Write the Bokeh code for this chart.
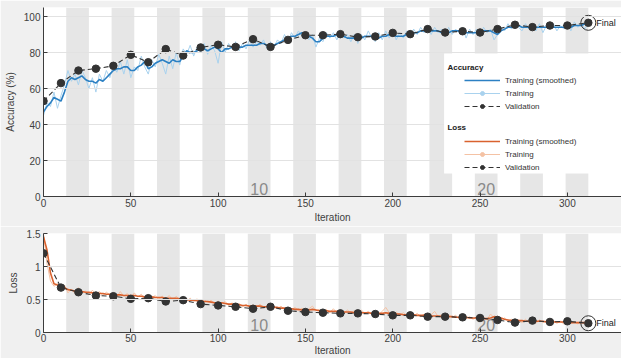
import numpy as np
from bokeh.plotting import figure
from bokeh.layouts import column
from bokeh.models import (FixedTicker, NumeralTickFormatter, Legend, LegendItem,
                          Label, BoxAnnotation, Range1d)
from bokeh.core.properties import value
from bokeh.embed import file_html
from bokeh.resources import INLINE

# ---------------- data ----------------
ITERS_PER_EPOCH = 13
N_EPOCHS = 24
EPOCH_LABELS = [10, 20]
STEP = 2  # training values are read every 2 iterations

acc_smooth = [
    47, 50, 52, 55, 54, 53, 58, 64, 66, 65,
    66, 67, 65, 64, 64, 63, 65, 64, 66, 68,
    70, 71, 71, 72, 72, 70, 70, 72, 73, 75,
    71, 72, 74, 75, 76, 75, 74, 76, 75, 75,
    78, 81, 80, 80, 81, 82, 82, 81, 82, 83,
    82, 80, 82, 82, 83, 82, 83, 83, 84, 84,
    84, 84, 85, 85, 84, 84, 84, 85, 86, 87,
    88, 89, 89, 90, 91, 90, 89, 88, 86, 86,
    88, 89, 89, 89, 90, 89, 89, 88, 88, 88,
    87, 88, 89, 89, 89, 88, 88, 89, 89, 90,
    90, 89, 89, 89, 90, 90, 91, 91, 92, 92,
    93, 92, 92, 92, 91, 91, 91, 92, 92, 92,
    92, 91, 91, 91, 91, 92, 92, 92, 92, 91,
    90, 92, 93, 94, 94, 95, 95, 94, 94, 94,
    94, 94, 94, 94, 94, 94, 94, 94, 94, 94,
    94, 94, 95, 95, 95, 96, 95]

acc_train = [
    45, 52, 50, 58, 49, 56, 62, 70, 64, 68,
    62, 70, 66, 60, 66, 58, 68, 64, 70, 66,
    73, 69, 75, 68, 76, 66, 72, 70, 78, 72,
    68, 76, 72, 79, 74, 68, 78, 71, 80, 73,
    82, 79, 84, 78, 83, 80, 85, 79, 84, 81,
    74, 86, 80, 85, 82, 86, 81, 85, 82, 87,
    83, 86, 84, 87, 82, 86, 83, 87, 85, 90,
    86, 91, 88, 92, 89, 91, 87, 90, 83, 88,
    86, 91, 88, 91, 87, 92, 88, 90, 86, 90,
    85, 90, 87, 92, 88, 86, 91, 87, 92, 88,
    93, 87, 91, 88, 92, 89, 93, 90, 94, 91,
    95, 90, 94, 91, 93, 89, 94, 90, 93, 91,
    94, 88, 93, 90, 93, 89, 94, 91, 93, 87,
    90, 94, 92, 96, 93, 96, 94, 92, 96, 93,
    95, 92, 96, 91, 95, 93, 96, 92, 95, 93,
    96, 92, 97, 94, 96, 93, 97]

loss_smooth = [
    1.45, 1.25, 0.90, 0.74, 0.72, 0.71, 0.68, 0.65, 0.64, 0.63,
    0.62, 0.62, 0.61, 0.61, 0.60, 0.60, 0.59, 0.59, 0.58, 0.58,
    0.57, 0.57, 0.57, 0.56, 0.56, 0.56, 0.56, 0.55, 0.55, 0.54,
    0.54, 0.54, 0.53, 0.53, 0.53, 0.52, 0.52, 0.52, 0.52, 0.51,
    0.51, 0.50, 0.49, 0.49, 0.48, 0.48, 0.47, 0.47, 0.46, 0.45,
    0.45, 0.45, 0.44, 0.43, 0.43, 0.42, 0.42, 0.41, 0.41, 0.40,
    0.40, 0.40, 0.40, 0.39, 0.39, 0.39, 0.38, 0.38, 0.37, 0.37,
    0.36, 0.36, 0.35, 0.35, 0.34, 0.34, 0.34, 0.35, 0.34, 0.33,
    0.33, 0.33, 0.32, 0.32, 0.32, 0.31, 0.31, 0.31, 0.31, 0.30,
    0.30, 0.30, 0.30, 0.30, 0.29, 0.29, 0.29, 0.29, 0.30, 0.29,
    0.28, 0.28, 0.28, 0.27, 0.27, 0.27, 0.27, 0.26, 0.26, 0.26,
    0.25, 0.25, 0.25, 0.25, 0.24, 0.24, 0.24, 0.24, 0.23, 0.23,
    0.23, 0.23, 0.22, 0.22, 0.22, 0.22, 0.21, 0.21, 0.22, 0.24,
    0.23, 0.22, 0.20, 0.19, 0.18, 0.18, 0.18, 0.18, 0.17, 0.17,
    0.17, 0.17, 0.17, 0.17, 0.16, 0.16, 0.16, 0.16, 0.16, 0.16,
    0.16, 0.15, 0.15, 0.15, 0.15, 0.15, 0.15]

loss_train = [
    1.50, 1.05, 0.78, 0.70, 0.74, 0.66, 0.72, 0.60, 0.66, 0.59,
    0.68, 0.60, 0.63, 0.57, 0.64, 0.58, 0.62, 0.56, 0.61, 0.57,
    0.60, 0.54, 0.62, 0.55, 0.59, 0.53, 0.60, 0.54, 0.58, 0.51,
    0.57, 0.52, 0.56, 0.50, 0.55, 0.51, 0.56, 0.49, 0.55, 0.50,
    0.53, 0.47, 0.52, 0.47, 0.51, 0.45, 0.50, 0.45, 0.49, 0.43,
    0.48, 0.43, 0.47, 0.41, 0.45, 0.40, 0.44, 0.39, 0.43, 0.38,
    0.42, 0.38, 0.43, 0.37, 0.41, 0.37, 0.40, 0.36, 0.40, 0.35,
    0.38, 0.34, 0.38, 0.33, 0.37, 0.32, 0.36, 0.40, 0.33, 0.35,
    0.31, 0.35, 0.30, 0.36, 0.30, 0.34, 0.29, 0.34, 0.30, 0.33,
    0.28, 0.34, 0.29, 0.32, 0.28, 0.31, 0.27, 0.32, 0.38, 0.30,
    0.27, 0.31, 0.26, 0.30, 0.26, 0.29, 0.25, 0.29, 0.24, 0.28,
    0.24, 0.27, 0.32, 0.24, 0.27, 0.22, 0.27, 0.23, 0.26, 0.21,
    0.25, 0.21, 0.24, 0.20, 0.24, 0.20, 0.23, 0.19, 0.28, 0.22,
    0.25, 0.19, 0.22, 0.17, 0.20, 0.16, 0.19, 0.15, 0.20, 0.15,
    0.18, 0.14, 0.19, 0.15, 0.18, 0.14, 0.18, 0.14, 0.17, 0.13,
    0.18, 0.14, 0.16, 0.13, 0.16, 0.13, 0.15]

val_iter = [0, 10, 20, 30, 40, 50, 60, 70, 80, 90, 100, 110, 120, 130, 140, 150,
            160, 170, 180, 190, 200, 210, 220, 230, 240, 250, 260, 270, 280, 290, 300, 312]
val_acc = [53, 63, 70, 71, 72.6, 78.7, 74.6, 81.9, 78.3, 82.8, 84.3, 83.1, 87.4, 83.1, 87, 89.6,
           89.6, 90.2, 88.5, 88.9, 90.9, 90.2, 93, 91.1, 91.8, 91.1, 93, 95.4, 94.1, 95, 95, 96.5]
val_loss = [1.2, 0.68, 0.61, 0.56, 0.55, 0.51, 0.52, 0.47, 0.49, 0.43, 0.41, 0.39, 0.36, 0.39, 0.33, 0.31,
            0.30, 0.29, 0.29, 0.28, 0.26, 0.26, 0.24, 0.24, 0.23, 0.22, 0.19, 0.15, 0.18, 0.16, 0.17, 0.14]

x_ticks = [0, 50, 100, 150, 200, 250, 300]
acc_ticks = [0, 20, 40, 60, 80, 100]
loss_ticks = [0, 0.5, 1, 1.5]

# ---------------- style ----------------
FONT = "Liberation Sans"
BG = "#f0f0f0"
BAND = "#e6e6e6"
ACC_S = "#2C80C3"
ACC_T = "#A9D2EE"
LOSS_S = "#D9622E"
LOSS_T = "#F4C2A4"
VAL = "#333333"
TXT = "#404040"
X_END = 331
FIG_W = 621
LEFT = 43
RIGHT = 0

band_left = [(e - 1) * ITERS_PER_EPOCH for e in range(2, N_EPOCHS + 1, 2)]
band_right = [e * ITERS_PER_EPOCH for e in range(2, N_EPOCHS + 1, 2)]
label_x = [(e - 0.5) * ITERS_PER_EPOCH for e in EPOCH_LABELS]
label_txt = [str(e) for e in EPOCH_LABELS]
NAN = [float("nan")]


def xs(arr):
    return np.arange(len(arr)) * STEP


def make_fig(height, y_end, yticks, ylabel, b_top, b_bottom, fmt, lab_so, ax_so):
    p = figure(width=FIG_W, height=height, x_range=Range1d(0, X_END), y_range=Range1d(0, y_end),
               output_backend="svg", toolbar_location=None,
               min_border_left=LEFT, min_border_right=RIGHT, min_border_top=b_top,
               min_border_bottom=b_bottom,
               background_fill_color="white", border_fill_color=BG)
    p.outline_line_color = None
    p.xaxis.ticker = FixedTicker(ticks=x_ticks)
    p.yaxis.ticker = FixedTicker(ticks=yticks)
    p.yaxis.formatter = NumeralTickFormatter(format=fmt)
    p.xaxis.axis_label = "Iteration"
    p.yaxis.axis_label = ylabel
    for ax in (p.xaxis[0], p.yaxis[0]):
        ax.axis_line_color = "#3c3c3c"
        ax.major_tick_line_color = "#3c3c3c"
        ax.major_tick_in = 4
        ax.major_tick_out = 0
        ax.minor_tick_line_color = None
        ax.major_label_text_font = FONT
        ax.major_label_text_font_size = "10px"
        ax.major_label_text_color = TXT
        ax.axis_label_text_font = FONT
        ax.axis_label_text_font_size = "10px"
        ax.axis_label_text_font_style = "normal"
        ax.axis_label_text_color = TXT
    p.xaxis.major_label_standoff = lab_so
    p.xaxis.axis_label_standoff = ax_so
    p.yaxis.major_label_standoff = 3
    p.yaxis.axis_label_standoff = 5
    p.xgrid.visible = False
    p.ygrid.grid_line_color = "#e2e2e2"
    p.ygrid.level = "glyph"
    p.quad(left=band_left, right=band_right, bottom=0, top=y_end,
           fill_color=BAND, line_color=None, level="underlay")
    p.text(x=label_x, y=[0] * len(label_x), text=label_txt, text_align="center",
           text_baseline="bottom", y_offset=-2, text_font=value(FONT),
           text_font_size="16px", text_color="#8a8a8a")
    return p


# ---------------- accuracy ----------------
p1 = make_fig(226, 105, acc_ticks, "Accuracy (%)", 7, 30, "0", 2, 2)

p1.add_layout(BoxAnnotation(left=229.4, right=X_END, bottom=12.8, top=79.4,
                            fill_color="white", fill_alpha=1.0, line_color=None,
                            level="glyph"))

r_at = p1.line(xs(acc_train), acc_train, color=ACC_T, line_width=1)
r_as = p1.line(xs(acc_smooth), acc_smooth, color=ACC_S, line_width=1.6)
r_vl = p1.line(val_iter, val_acc, color=VAL, line_width=1.1, line_dash="5 3")
r_vd = p1.scatter(val_iter, val_acc, size=7.5, fill_color=VAL, line_color=VAL)
p1.scatter([val_iter[-1]], [val_acc[-1]], size=15, fill_color=None, line_color=VAL, line_width=1)
p1.add_layout(Label(x=val_iter[-1], y=val_acc[-1], text="Final", x_offset=8,
                    text_baseline="middle", text_font=FONT, text_font_size="9px",
                    text_color="#222222"))

# placeholder renderers (NaN, never drawn) that only give legend glyphs
d_at = p1.scatter(NAN, NAN, size=6, fill_color=ACC_T, line_color=ACC_T)
d_ls = p1.line(NAN, NAN, color=LOSS_S, line_width=1.6)
d_lt = p1.line(NAN, NAN, color=LOSS_T, line_width=1)
d_ltd = p1.scatter(NAN, NAN, size=6, fill_color=LOSS_T, line_color=LOSS_T)
d_vl = p1.line(NAN, NAN, color=VAL, line_width=1.1, line_dash="5 3")
d_vd = p1.scatter(NAN, NAN, size=7.5, fill_color=VAL, line_color=VAL)

leg_style = dict(label_text_font=FONT, label_text_font_size="8px", label_text_color="#333333",
                 glyph_width=36, glyph_height=10, label_height=10, spacing=3, padding=4,
                 margin=0, label_standoff=5, background_fill_alpha=0, border_line_alpha=0)

leg_acc = Legend(items=[LegendItem(label="Training (smoothed)", renderers=[r_as]),
                        LegendItem(label="Training", renderers=[r_at, d_at]),
                        LegendItem(label="Validation", renderers=[r_vl, r_vd])],
                 location=(417, 81), **leg_style)
leg_loss = Legend(items=[LegendItem(label="Training (smoothed)", renderers=[d_ls]),
                         LegendItem(label="Training", renderers=[d_lt, d_ltd]),
                         LegendItem(label="Validation", renderers=[d_vl, d_vd])],
                  location=(417, 20), **leg_style)
p1.add_layout(leg_acc, "center")
p1.add_layout(leg_loss, "center")
p1.add_layout(Label(x=231.3, y=71.7, text="Accuracy", text_baseline="middle",
                    text_font=FONT, text_font_size="8px", text_font_style="bold",
                    text_color="#222222"))
p1.add_layout(Label(x=231.3, y=38.3, text="Loss", text_baseline="middle",
                    text_font=FONT, text_font_size="8px", text_font_style="bold",
                    text_color="#222222"))

# ---------------- loss ----------------
p2 = make_fig(132, 1.5, loss_ticks, "Loss", 7, 24, "0.[0]", 1, 0)
p2.line(xs(loss_train), loss_train, color=LOSS_T, line_width=1)
p2.line(xs(loss_smooth), loss_smooth, color=LOSS_S, line_width=1.6)
p2.line(val_iter, val_loss, color=VAL, line_width=1.1, line_dash="5 3")
p2.scatter(val_iter, val_loss, size=7.5, fill_color=VAL, line_color=VAL)
p2.scatter([val_iter[-1]], [val_loss[-1]], size=15, fill_color=None, line_color=VAL, line_width=1)
p2.add_layout(Label(x=val_iter[-1], y=val_loss[-1], text="Final", x_offset=8,
                    text_baseline="middle", text_font=FONT, text_font_size="9px",
                    text_color="#222222"))

layout = column(p1, p2, spacing=0)
open("out.html", "w").write(file_html(layout, INLINE))
